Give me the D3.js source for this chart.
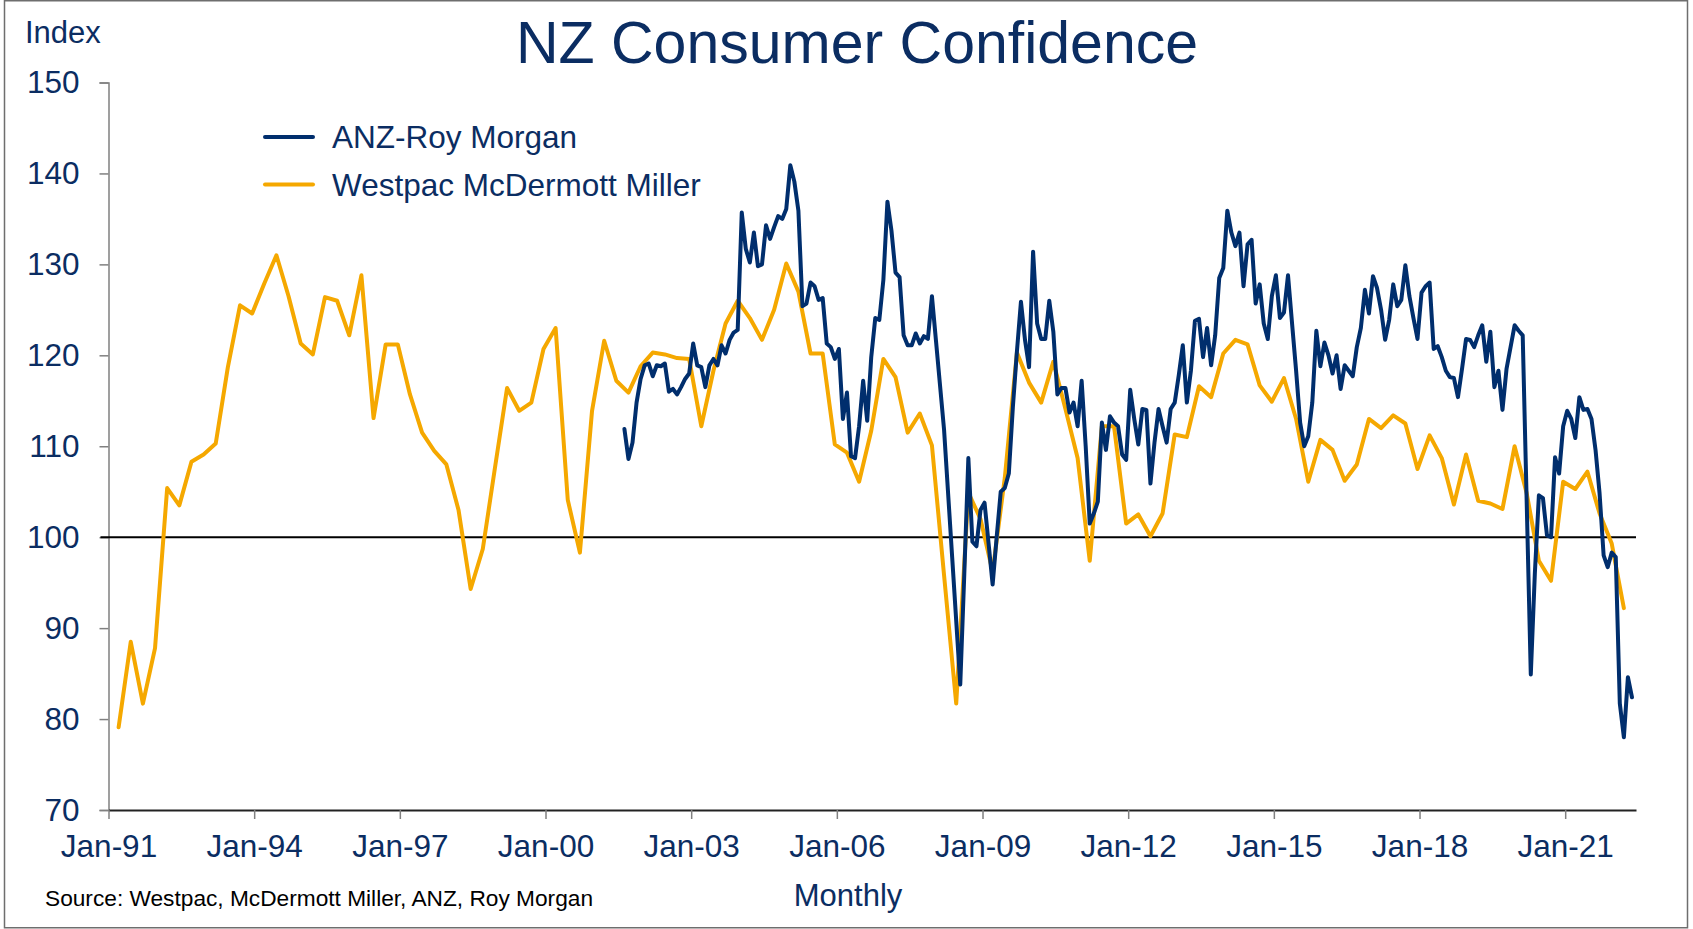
<!DOCTYPE html>
<html>
<head>
<meta charset="utf-8">
<script src="https://cdn.jsdelivr.net/npm/d3@7"></script>
<style>
  html, body { margin: 0; padding: 0; background: #ffffff; }
  svg { display: block; }
  text { font-family: "Liberation Sans", Arial, "DejaVu Sans", sans-serif; }
</style>
</head>
<body>
<svg id="chart" width="1693" height="929"></svg>
<script>
// ---------------- DATA ----------------
const chartTitle = "NZ Consumer Confidence";
const seriesNames = ["ANZ-Roy Morgan", "Westpac McDermott Miller"];

// Westpac McDermott Miller: quarterly, first value March 1991
const westpacStart = "1991-03";
const westpacStepMonths = 3;
const westpacValues = [
  79.1, 88.5, 81.7, 87.8,      // 1991
  105.4, 103.5, 108.3, 109.1,  // 1992
  110.3, 118.7, 125.5, 124.6,  // 1993
  127.9, 131.0, 126.5, 121.3,  // 1994
  120.1, 126.4, 126.0, 122.2,  // 1995
  128.8, 113.1, 121.2, 121.2,  // 1996
  115.7, 111.5, 109.5, 108.0,  // 1997
  103.0, 94.3, 98.7, 107.6,    // 1998
  116.4, 113.9, 114.8, 120.7,  // 1999
  123.0, 104.1, 98.3, 113.9,   // 2000
  121.6, 117.2, 115.9, 118.8,  // 2001
  120.3, 120.1, 119.7, 119.6,  // 2002
  112.2, 118.3, 123.5, 126.0,  // 2003
  124.1, 121.7, 125.0, 130.1,  // 2004
  127.0, 120.2, 120.2, 110.2,  // 2005
  109.3, 106.1, 111.7, 119.6,  // 2006
  117.6, 111.5, 113.6, 110.1,  // 2007
  95.8, 81.7, 104.9, 102.0,    // 2008
  96.2, 106.5, 120.3, 117.0,   // 2009
  114.8, 119.3, 114.1, 108.7,  // 2010
  97.4, 112.2, 112.2, 101.5,   // 2011
  102.5, 100.1, 102.6, 111.3,  // 2012
  111.0, 116.6, 115.4, 120.2,  // 2013
  121.7, 121.2, 116.7, 114.9,  // 2014
  117.5, 113.0, 106.1, 110.7,  // 2015
  109.6, 106.2, 108.0, 113.0,  // 2016
  112.0, 113.4, 112.5, 107.5,  // 2017
  111.2, 108.7, 103.6, 109.1,  // 2018
  104.0, 103.7, 103.1, 110.0,  // 2019
  104.8, 97.4, 95.2, 106.1,    // 2020
  105.3, 107.2, 102.6, 99.3,   // 2021
  92.2                         // 2022
];

// ANZ-Roy Morgan: monthly, first value August 2001
const anzStart = "2001-08";
const anzStepMonths = 1;
const anzValues = [
  111.9, 108.6, 110.4, 114.8, 117.4,                                          // 2001 Aug-Dec
  118.9, 119.1, 117.7, 118.9, 118.8, 119.1, 116.0, 116.3, 115.7, 116.5, 117.4, 118.0, // 2002
  121.3, 118.9, 118.7, 116.5, 118.9, 119.6, 118.9, 121.1, 120.2, 121.7, 122.5, 122.8, // 2003
  135.7, 131.7, 130.2, 133.5, 129.8, 130.0, 134.3, 132.8, 134.1, 135.3, 135.0, 136.1, // 2004
  140.9, 139.1, 135.9, 125.4, 125.7, 128.0, 127.6, 126.1, 126.3, 121.3, 120.9, 119.6, // 2005
  120.7, 113.0, 115.9, 108.9, 108.7, 112.2, 117.2, 112.8, 119.8, 124.1, 123.9, 128.3, // 2006
  136.9, 133.7, 129.1, 128.6, 122.2, 121.1, 121.1, 122.4, 121.3, 122.1, 121.8, 126.5, // 2007
  121.6, 116.7, 111.8, 104.8, 97.8, 90.8, 83.8, 96.0, 108.7, 99.5, 99.0, 103.0,       // 2008
  103.8, 99.3, 94.8, 100.0, 105.0, 105.4, 107.0, 114.3, 120.4, 125.9, 121.7, 118.7,   // 2009
  131.4, 123.5, 121.8, 121.8, 126.0, 122.6, 115.7, 116.4, 116.4, 113.7, 114.8, 112.2, // 2010
  117.2, 110.0, 101.5, 102.6, 103.9, 112.6, 109.6, 113.3, 112.6, 112.2, 109.1, 108.5, // 2011
  116.2, 113.0, 110.2, 114.1, 114.0, 105.9, 110.4, 114.1, 112.2, 110.4, 114.1, 114.8, // 2012
  117.8, 121.1, 114.8, 118.3, 123.8, 124.0, 119.8, 123.0, 118.9, 122.2, 128.5, 129.6, // 2013
  135.9, 133.5, 132.0, 133.5, 127.6, 132.2, 132.7, 125.7, 127.8, 123.5, 121.8, 126.5, // 2014
  128.8, 124.1, 124.7, 128.8, 123.5, 118.3, 112.6, 110.0, 111.1, 114.8, 122.7, 118.8, // 2015
  121.4, 120.0, 118.0, 120.0, 116.3, 118.9, 118.3, 117.7, 120.9, 123.0, 127.2, 124.6, // 2016
  128.7, 127.4, 125.0, 121.7, 123.9, 127.8, 125.4, 126.1, 129.9, 126.5, 124.1, 121.8, // 2017
  126.9, 127.6, 128.0, 120.7, 121.0, 119.8, 118.3, 117.6, 117.5, 115.4, 118.5, 121.8, // 2018
  121.7, 120.9, 122.2, 123.3, 119.3, 122.6, 116.5, 118.3, 114.0, 118.5, 120.9, 123.3, // 2019
  122.7, 122.2, 103.6, 84.9, 96.0, 104.6, 104.3, 100.2, 100.0, 108.8, 107.0, 112.2,   // 2020
  113.9, 113.0, 110.9, 115.4, 114.0, 114.1, 113.0, 109.6, 104.8, 98.0, 96.7, 98.3,    // 2021
  97.8, 81.7, 78.0, 84.6, 82.4                                                          // 2022 Jan-May
];

// Axis
const axisStart = "1991-01";
const axisEnd = "2022-06";
const xTickMonths = ["1991-01","1994-01","1997-01","2000-01","2003-01","2006-01","2009-01","2012-01","2015-01","2018-01","2021-01"];
const xTickLabels = ["Jan-91","Jan-94","Jan-97","Jan-00","Jan-03","Jan-06","Jan-09","Jan-12","Jan-15","Jan-18","Jan-21"];
const yTicks = [70, 80, 90, 100, 110, 120, 130, 140, 150];
const referenceLevel = 100;

// ---------------- HELPERS ----------------
function monthIndex(ym) {
  const [yy, mm] = ym.split("-").map(Number);
  const [y0, m0] = axisStart.split("-").map(Number);
  return (yy - y0) * 12 + (mm - m0);
}
function buildSeries(start, step, values) {
  const s = monthIndex(start);
  return values.map((v, i) => ({ m: s + i * step, v }));
}
const westpac = buildSeries(westpacStart, westpacStepMonths, westpacValues);
const anz = buildSeries(anzStart, anzStepMonths, anzValues);

// ---------------- LAYOUT ----------------
const navy = "#0b2d62";
const anzColor = "#002e6d";
const wpColor = "#f5a800";
const plotLeft = 108.5, plotRight = 1636, plotTop = 82.5, plotBottom = 810;

const svg = d3.select("#chart");

// outer frame
svg.append("rect")
  .attr("x", 4.5).attr("y", 0.75).attr("width", 1683).attr("height", 927)
  .attr("fill", "none").attr("stroke", "#6e6e6e").attr("stroke-width", 1.5);

const xScale = d3.scaleLinear()
  .domain([0, monthIndex(axisEnd) + 0.5])
  .range([plotLeft, plotRight]);
const yScale = d3.scaleLinear().domain([70, 150]).range([plotBottom, plotTop]);

// Y axis
const yAxis = d3.axisLeft(yScale).tickValues(yTicks).tickSize(9).tickPadding(20).tickFormat(d3.format("d"));
const gy = svg.append("g").attr("transform", `translate(${plotLeft},0)`).call(yAxis);
gy.select(".domain").attr("stroke", "#808080").attr("stroke-width", 1.5);
gy.selectAll(".tick line").attr("stroke", "#808080").attr("stroke-width", 1.5);
gy.selectAll(".tick text")
  .attr("fill", navy).style("font-size", "31.5px")
  .style("font-family", '"Liberation Sans", Arial, sans-serif');

// X axis
const xAxis = d3.axisBottom(xScale)
  .tickValues(xTickMonths.map(monthIndex))
  .tickFormat((d, i) => xTickLabels[i])
  .tickSize(9).tickSizeOuter(0).tickPadding(16);
const gx = svg.append("g").attr("transform", `translate(0,${plotBottom})`).call(xAxis);
gx.select(".domain").attr("stroke", "#222").attr("stroke-width", 1.8);
gx.selectAll(".tick line").attr("stroke", "#808080").attr("stroke-width", 1.5);
gx.selectAll(".tick text")
  .attr("fill", navy).style("font-size", "31.5px")
  .style("font-family", '"Liberation Sans", Arial, sans-serif');

// 100 reference line
svg.append("line")
  .attr("x1", plotLeft - 8).attr("x2", plotRight)
  .attr("y1", yScale(referenceLevel)).attr("y2", yScale(referenceLevel))
  .attr("stroke", "#000").attr("stroke-width", 2);

// Lines
const line = d3.line()
  .x(d => xScale(d.m + 0.5))
  .y(d => yScale(d.v))
  .curve(d3.curveLinear);

svg.append("path").datum(westpac)
  .attr("d", line).attr("fill", "none")
  .attr("stroke", wpColor).attr("stroke-width", 4)
  .attr("stroke-linejoin", "round").attr("stroke-linecap", "round");

svg.append("path").datum(anz)
  .attr("d", line).attr("fill", "none")
  .attr("stroke", anzColor).attr("stroke-width", 4)
  .attr("stroke-linejoin", "round").attr("stroke-linecap", "round");

// Title
svg.append("text")
  .attr("x", 857).attr("y", 63)
  .attr("text-anchor", "middle")
  .attr("fill", navy)
  .style("font-size", "59px")
  .text(chartTitle);

// "Index" label
svg.append("text")
  .attr("x", 25).attr("y", 43)
  .attr("fill", navy)
  .style("font-size", "31px")
  .text("Index");

// Legend
const legendItems = [
  { name: seriesNames[0], color: anzColor, ly: 137 },
  { name: seriesNames[1], color: wpColor, ly: 184.5 }
];
const lg = svg.append("g");
legendItems.forEach(it => {
  lg.append("line")
    .attr("x1", 265).attr("x2", 313)
    .attr("y1", it.ly).attr("y2", it.ly)
    .attr("stroke", it.color).attr("stroke-width", 4)
    .attr("stroke-linecap", "round");
  lg.append("text")
    .attr("x", 332).attr("y", it.ly + 11)
    .attr("fill", navy)
    .style("font-size", "31.5px")
    .text(it.name);
});

// Axis title
svg.append("text")
  .attr("x", 848).attr("y", 906)
  .attr("text-anchor", "middle")
  .attr("fill", navy)
  .style("font-size", "31px")
  .text("Monthly");

// Source
svg.append("text")
  .attr("x", 45).attr("y", 906)
  .attr("fill", "#000")
  .style("font-size", "22.7px")
  .text("Source: Westpac, McDermott Miller, ANZ, Roy Morgan");
</script>
</body>
</html>
